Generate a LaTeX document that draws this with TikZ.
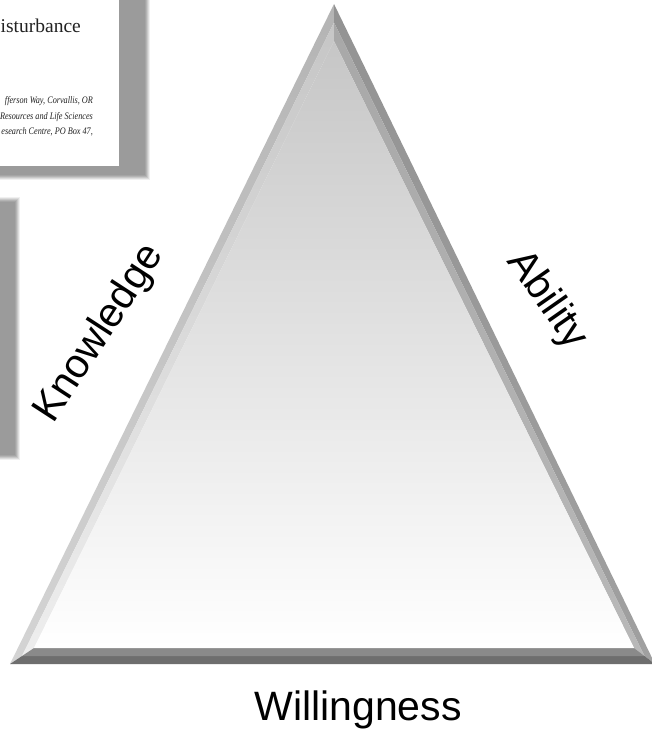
\documentclass[tikz,border=0pt]{standalone}
\usepackage{fontspec}
\newfontfamily\arialf{Liberation Sans}
\newfontfamily\seriff{Liberation Serif}
\definecolor{shd}{HTML}{9B9B9B}
\definecolor{lOutT}{HTML}{B4B4B4}
\definecolor{lOutB}{HTML}{D4D4D4}
\definecolor{lInT}{HTML}{C6C6C6}
\definecolor{lInB}{HTML}{EEEEEE}
\definecolor{rOutT}{HTML}{939393}
\definecolor{rOutB}{HTML}{A0A0A0}
\definecolor{rInT}{HTML}{A8A8A8}
\definecolor{rInB}{HTML}{B8B8B8}
\definecolor{bOut}{HTML}{6E6E6E}
\definecolor{bIn}{HTML}{8A8A8A}
\definecolor{faceT}{HTML}{C6C6C6}
\definecolor{faceM}{HTML}{EEEEEE}
\definecolor{ink}{HTML}{222222}
\tikzset{
  label/.style={font=\arialf\fontsize{41}{48}\selectfont, text=black, inner sep=0pt},
  cardtitle/.style={font=\seriff\fontsize{19.5}{22}\selectfont, text=ink, inner sep=0pt, anchor=base west},
  cardline/.style={font=\seriff\itshape\fontsize{10}{12}\selectfont, text=ink, inner sep=0pt, anchor=base east, xscale=0.82, transform shape}
}
\begin{document}
\begin{tikzpicture}[x=1pt,y=-1pt]
\useasboundingbox (0,0) rectangle (652,732);
\clip (0,0) rectangle (652,732);
\fill[white] (0,0) rectangle (652,732);
% top-left card shadow
\foreach \k/\c in {3/15,2/35,1/55,0/75,-1/90,-2/100}
  \fill[shd!\c] (-40,-40) rectangle (147+\k,177+\k);
\fill[white] (-40,-40) rectangle (119,166);
\node[cardtitle] (title) at (0.5,32) {isturbance};
\node[cardline] (l1) at (93,103) {fferson Way, Corvallis, OR};
\node[cardline] (l2) at (93,119) {Resources and Life Sciences};
\node[cardline] (l3) at (93,134) {esearch Centre, PO Box 47,};
% second card shadow
\foreach \k/\c in {3/15,2/35,1/55,0/75,-1/90,-2/100}
  \fill[shd!\c] (-40,200-\k) rectangle (17+\k,457+\k);
% triangle
\coordinate (A) at (334,4);
\coordinate (B) at (10,664);
\coordinate (C) at (655,664);
\coordinate (MA) at (334,22.5);
\coordinate (MB) at (22,656);
\coordinate (MC) at (644.5,656);
\coordinate (IA) at (334,41);
\coordinate (IB) at (34,648);
\coordinate (IC) at (634,648);
\shade[top color=lOutT, bottom color=lOutB] (A) -- (B) -- (MB) -- (MA) -- cycle;
\shade[top color=lInT, bottom color=lInB] (MA) -- (MB) -- (IB) -- (IA) -- cycle;
\shade[top color=rOutT, bottom color=rOutB] (A) -- (C) -- (MC) -- (MA) -- cycle;
\shade[top color=rInT, bottom color=rInB] (MA) -- (MC) -- (IC) -- (IA) -- cycle;
\fill[bOut] (B) -- (C) -- (MC) -- (MB) -- cycle;
\fill[bIn] (MB) -- (MC) -- (IC) -- (IB) -- cycle;
\shade[top color=faceT, middle color=faceM, bottom color=white] (IA) -- (IB) -- (IC) -- cycle;
% labels
\node[label, rotate=57] (know) at (100,334) {Knowledge};
\node[label, rotate=-55] (abil) at (547,300) {Ability};
\node[label, anchor=base] (will) at (358,720) {Willingness};
\end{tikzpicture}
\end{document}
